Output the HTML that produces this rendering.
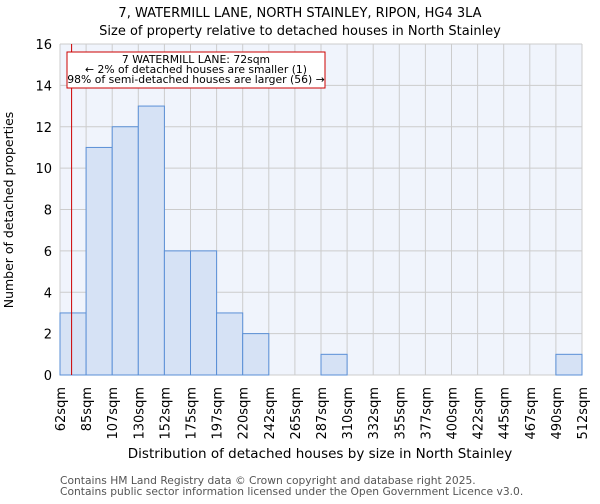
<!DOCTYPE html>
<html><head><meta charset="utf-8"><style>
body{margin:0;background:#fff;font-family:"DejaVu Sans","Liberation Sans",sans-serif;}
</style></head><body>
<svg width="600" height="500" id="chart" font-family="DejaVu Sans, Liberation Sans, sans-serif">
<text x="300" y="17" text-anchor="middle" font-size="13">7, WATERMILL LANE, NORTH STAINLEY, RIPON, HG4 3LA</text>
<text x="300" y="35" text-anchor="middle" font-size="13">Size of property relative to detached houses in North Stainley</text>
<g id="plot"></g>
<text x="320" y="458" text-anchor="middle" font-size="13.5">Distribution of detached houses by size in North Stainley</text>
<text transform="translate(13,210) rotate(-90)" text-anchor="middle" font-size="12.5">Number of detached properties</text>
<text x="60" y="484" font-size="10.7" fill="#555">Contains HM Land Registry data © Crown copyright and database right 2025.</text>
<text x="60" y="495" font-size="10.7" fill="#555">Contains public sector information licensed under the Open Government Licence v3.0.</text>
</svg>
<script>
const binLabels=["62sqm","85sqm","107sqm","130sqm","152sqm","175sqm","197sqm","220sqm","242sqm","265sqm","287sqm","310sqm","332sqm","355sqm","377sqm","400sqm","422sqm","445sqm","467sqm","490sqm","512sqm"];
const counts=[3,11,12,13,6,6,3,2,0,0,1,0,0,0,0,0,0,0,0,1];
const yTicks=[0,2,4,6,8,10,12,14,16];
const propertySize=72;
const edgeValues=[62,84.5,107,129.5,152,174.5,197,219.5,242,264.5,287,309.5,332,354.5,377,399.5,422,444.5,467,489.5,512];
const X0=60,X1=582,Y0=375,Y1=44,YMAX=16;
const ns="http://www.w3.org/2000/svg";
const g=document.getElementById('plot');
const nb=counts.length,bw=(X1-X0)/nb;
const xs=i=>X0+i*bw;
const ys=v=>Y0-(v/YMAX)*(Y0-Y1);
function el(t,a){const e=document.createElementNS(ns,t);for(const k in a)e.setAttribute(k,a[k]);g.appendChild(e);return e;}
let bg=el('rect',{x:X0,y:Y1,width:X1-X0,height:Y0-Y1,fill:'#f0f4fc'});


yTicks.forEach(v=>{
 let l=el('line',{x1:X0,x2:X1,y1:ys(v),y2:ys(v),stroke:'#ccc','stroke-width':1});
 
 
 let t=el('text',{x:X0-8,y:ys(v)+5,'text-anchor':'end','font-size':13});
 t.textContent=v;
 
 
});
binLabels.forEach((s,i)=>{
 let l=el('line',{x1:xs(i),x2:xs(i),y1:Y1,y2:Y0,stroke:'#ccc','stroke-width':1});
 
 
 let t=el('text',{transform:`translate(${xs(i)+5},${Y0+12}) rotate(-90)`,'text-anchor':'end','font-size':13});
 t.textContent=s;
 
 
});
counts.forEach((c,i)=>{
 if(c<=0)return;
 let r=el('rect',{x:xs(i),y:ys(c),width:bw,height:Y0-ys(c),fill:'#d6e2f5',stroke:'#5a8fd6','stroke-width':1});
 
 
});
let k=0;while(k<edgeValues.length-2&&edgeValues[k+1]<propertySize)k++;
const mx=xs(k)+bw*(propertySize-edgeValues[k])/(edgeValues[k+1]-edgeValues[k]);
let m=el('line',{x1:mx,x2:mx,y1:Y1,y2:Y0,stroke:'#c00','stroke-width':1});


let box=el('rect',{x:67,y:52,width:258,height:36,fill:'#fff',stroke:'#c00','stroke-width':1});


["7 WATERMILL LANE: 72sqm","← 2% of detached houses are smaller (1)","98% of semi-detached houses are larger (56) →"].forEach((s,i)=>{
 let t=el('text',{x:196,y:63+i*10,'text-anchor':'middle','font-size':10.8});
 t.textContent=s;
 
 
});
</script>
</body></html>
